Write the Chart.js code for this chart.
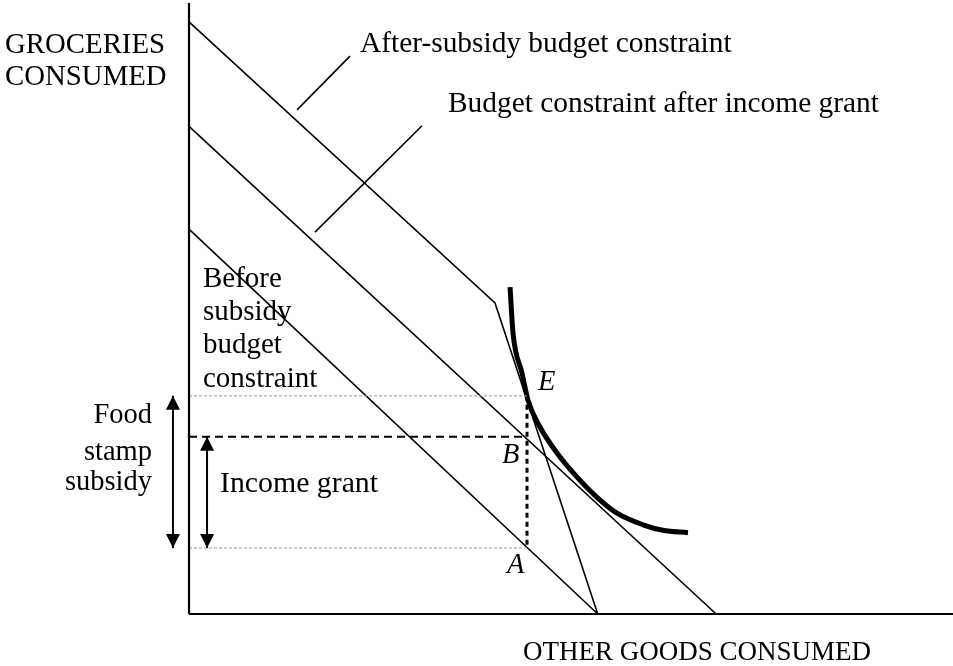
<!DOCTYPE html>
<html>
<head>
<meta charset="utf-8">
<script src="https://cdn.jsdelivr.net/npm/chart.js@4/dist/chart.umd.min.js"></script>
<style>
  html, body { margin: 0; padding: 0; background: #ffffff; }
  #wrap { position: relative; width: 953px; height: 666px; }
</style>
</head>
<body>
<div id="wrap"><canvas id="c"></canvas></div>
<script>
// ---- Data (conceptual units: other goods on x, groceries on y) ----
const axisX = [[0, 0], [100, 0]];
const axisY = [[0, 0], [0, 100]];
const beforeSubsidy = [[0, 63.0], [53.5, 0]];
const afterSubsidy = [[0, 96.9], [40.05, 50.9], [53.5, 0]];
const incomeGrantLine = [[0, 79.8], [69.0, 0]];
const indifference = [
  [42.02, 53.5], [42.41, 46.0], [43.59, 39.4], [44.37, 35.0], [45.94, 30.6],
  [48.17, 26.35], [50.79, 22.4], [53.40, 19.1], [56.02, 16.5], [59.42, 14.6],
  [62.04, 13.7], [65.31, 13.3]
];
const levelE = 35.7;   // groceries at E
const levelB = 29.0;   // groceries at B
const levelA = 10.8;   // groceries at A
const pointX = 44.24;  // other goods at A, B, E
const leaderAfter = [[14.14, 82.5], [21.07, 91.3]];
const leaderIncome = [[16.49, 62.5], [30.5, 79.9]];
const foodStampArrowX = -2.1;
const incomeArrowX = 2.36;

// ---- Text annotations ----
const labels = [
  { t: 'GROCERIES', x: -24.08, y: 91.8, align: 'left', size: 28.8 },
  { t: 'CONSUMED', x: -24.08, y: 86.6, align: 'left', size: 28.8 },
  { t: 'After-subsidy budget constraint', x: 22.38, y: 92.0, align: 'left', size: 29.4 },
  { t: 'Budget constraint after income grant', x: 33.9, y: 82.2, align: 'left', size: 29.4 },
  { t: 'Before', x: 1.83, y: 53.5, align: 'left', size: 29 },
  { t: 'subsidy', x: 1.83, y: 48.1, align: 'left', size: 29 },
  { t: 'budget', x: 1.83, y: 42.7, align: 'left', size: 29 },
  { t: 'constraint', x: 1.83, y: 37.15, align: 'left', size: 29 },
  { t: 'Food', x: -4.84, y: 31.3, align: 'right', size: 28.5 },
  { t: 'stamp', x: -4.84, y: 25.2, align: 'right', size: 28.5 },
  { t: 'subsidy', x: -4.84, y: 20.3, align: 'right', size: 28.5 },
  { t: 'Income grant', x: 4.06, y: 20.0, align: 'left', size: 29.8 },
  { t: 'E', x: 45.68, y: 36.7, align: 'left', italic: true, size: 28.5 },
  { t: 'B', x: 40.97, y: 24.7, align: 'left', italic: true, size: 28.5 },
  { t: 'A', x: 41.62, y: 6.7, align: 'left', italic: true, size: 28.5 },
  { t: 'OTHER GOODS CONSUMED', x: 43.72, y: -7.5, align: 'left', size: 27 }
];

const toPts = arr => arr.map(p => ({ x: p[0], y: p[1] }));
const FONT = '"Liberation Serif", "Times New Roman", serif';

function line(data, opts) {
  return Object.assign({
    data: toPts(data), borderColor: '#000', borderWidth: 1.6,
    pointRadius: 0, fill: false, tension: 0, showLine: true
  }, opts || {});
}

const datasets = [
  line(axisX, { borderWidth: 2.2 }),
  line(axisY, { borderWidth: 2.2 }),
  line([[0, levelE], [pointX, levelE]], { borderColor: '#9a9a9a', borderWidth: 1, borderDash: [3, 2] }),
  line([[0, levelA], [pointX, levelA]], { borderColor: '#9a9a9a', borderWidth: 1, borderDash: [3, 2] }),
  line([[0, levelB], [pointX, levelB]], { borderWidth: 2, borderDash: [8, 5] }),
  line([[pointX, levelE], [pointX, levelA]], { borderWidth: 3, borderDash: [5, 4] }),
  line(beforeSubsidy),
  line(afterSubsidy),
  line(incomeGrantLine),
  line(leaderAfter),
  line(leaderIncome),
  line([[foodStampArrowX, levelE], [foodStampArrowX, levelA]], { borderWidth: 2 }),
  line([[incomeArrowX, levelB], [incomeArrowX, levelA]], { borderWidth: 2 }),
  line(indifference, { borderWidth: 5, cubicInterpolationMode: 'monotone', borderCapStyle: 'butt' })
];

const decorPlugin = {
  id: 'decor',
  afterDatasetsDraw(chart) {
    const ctx = chart.ctx;
    const xs = chart.scales.x, ys = chart.scales.y;
    // arrow heads
    const heads = [
      [foodStampArrowX, levelE, -1], [foodStampArrowX, levelA, 1],
      [incomeArrowX, levelB, -1], [incomeArrowX, levelA, 1]
    ];
    ctx.save();
    ctx.fillStyle = '#000';
    heads.forEach(h => {
      const px = xs.getPixelForValue(h[0]);
      const py = ys.getPixelForValue(h[1]);
      const dir = h[2]; // -1 tip up, 1 tip down
      ctx.beginPath();
      ctx.moveTo(px, py);
      ctx.lineTo(px - 7, py - dir * 14);
      ctx.lineTo(px + 7, py - dir * 14);
      ctx.closePath();
      ctx.fill();
    });
    // text
    ctx.fillStyle = '#000';
    ctx.textBaseline = 'alphabetic';
    labels.forEach(l => {
      ctx.font = (l.italic ? 'italic ' : '') + l.size + 'px ' + FONT;
      ctx.textAlign = l.align;
      ctx.fillText(l.t, xs.getPixelForValue(l.x), ys.getPixelForValue(l.y));
    });
    ctx.restore();
  }
};

new Chart(document.getElementById('c'), {
  type: 'scatter',
  data: { datasets },
  options: {
    responsive: true,
    maintainAspectRatio: false,
    animation: false,
    events: [],
    layout: { padding: 0 },
    plugins: { legend: { display: false }, tooltip: { enabled: false }, title: { display: false } },
    scales: {
      x: { type: 'linear', min: -24.74, max: 100, display: false },
      y: { type: 'linear', min: -8.51, max: 100.49, display: false }
    }
  },
  plugins: [decorPlugin]
});
</script>
</body>
</html>
